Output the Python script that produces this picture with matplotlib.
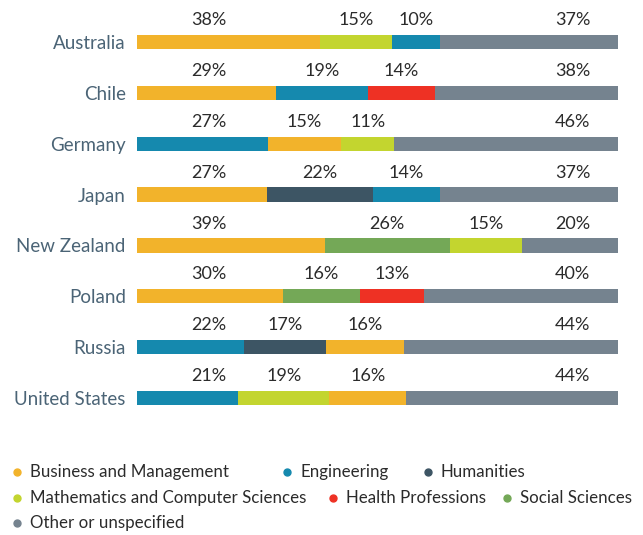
import numpy as np
import matplotlib.pyplot as plt

plt.rcParams["font.family"] = ["Lato", "DejaVu Sans"]

# DATA
countries = ["Australia", "Chile", "Germany", "Japan", "New Zealand", "Poland", "Russia", "United States"]
fields = ["Business and Management", "Engineering", "Humanities",
          "Mathematics and Computer Sciences", "Health Professions", "Social Sciences",
          "Other or unspecified"]
colors = {
    "Business and Management": "#F2B32B",
    "Engineering": "#1589AE",
    "Humanities": "#3D5564",
    "Mathematics and Computer Sciences": "#C3D52F",
    "Health Professions": "#EE3124",
    "Social Sciences": "#74A857",
    "Other or unspecified": "#75838F",
}
# segments per country, in drawing order (field, percent)
segments = [
    [("Business and Management", 38), ("Mathematics and Computer Sciences", 15), ("Engineering", 10), ("Other or unspecified", 37)],
    [("Business and Management", 29), ("Engineering", 19), ("Health Professions", 14), ("Other or unspecified", 38)],
    [("Engineering", 27), ("Business and Management", 15), ("Mathematics and Computer Sciences", 11), ("Other or unspecified", 46)],
    [("Business and Management", 27), ("Humanities", 22), ("Engineering", 14), ("Other or unspecified", 37)],
    [("Business and Management", 39), ("Social Sciences", 26), ("Mathematics and Computer Sciences", 15), ("Other or unspecified", 20)],
    [("Business and Management", 30), ("Social Sciences", 16), ("Health Professions", 13), ("Other or unspecified", 40)],
    [("Engineering", 22), ("Humanities", 17), ("Business and Management", 16), ("Other or unspecified", 44)],
    [("Engineering", 21), ("Mathematics and Computer Sciences", 19), ("Business and Management", 16), ("Other or unspecified", 44)],
]


def main():
    fig = plt.figure(figsize=(6.43, 5.35), dpi=100, facecolor="white")
    ax = fig.add_axes([0.213, 0.2084, 0.748, 0.7606])

    for i, segs in enumerate(segments):
        total = sum(v for _, v in segs)
        left = 0
        for j, (field, v) in enumerate(segs):
            w = v * 100 / total
            ax.barh(i, w, left=left, height=0.28, color=colors[field])
            if j == 0:
                tx = 15
            elif j == len(segs) - 1:
                tx = 90.6
            else:
                tx = left + w / 2
            ax.text(tx, i - 0.43, f"{v}%", ha="center", va="center",
                    fontsize=13, color="#2b2b2b")
            left += w

    ax.set_xlim(0, 100)
    ax.set_ylim(len(countries) - 0.5, -0.5)
    ax.set_yticks(range(len(countries)))
    ax.set_yticklabels(countries, fontsize=13.5, color="#4B6476")
    ax.tick_params(axis="y", length=0, pad=8)
    ax.set_xticks([])
    for s in ax.spines.values():
        s.set_visible(False)

    # legend, flowing layout
    legend_items = [
        ("Business and Management", 17, 472),
        ("Engineering", 287, 472),
        ("Humanities", 428, 472),
        ("Mathematics and Computer Sciences", 17, 498),
        ("Health Professions", 333, 498),
        ("Social Sciences", 507, 498),
        ("Other or unspecified", 17, 523),
    ]
    W, H = 643, 535
    for name, px, py in legend_items:
        fig.lines.append(plt.Line2D([px / W], [1 - py / H], marker="o", markersize=5,
                                    color=colors[name], transform=fig.transFigure,
                                    linestyle="none"))
        fig.text((px + 13) / W, 1 - py / H, name, ha="left", va="center",
                 fontsize=12.2, color="#2b2b2b")

    fig.savefig("out.png", dpi=100)


if __name__ == "__main__":
    main()
